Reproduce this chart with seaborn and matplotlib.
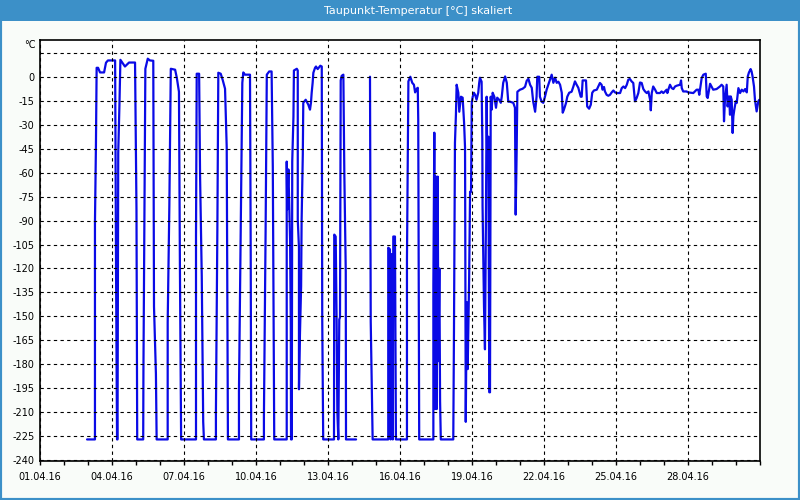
import numpy as np
import pandas as pd
import matplotlib
matplotlib.use("Agg")
import matplotlib.pyplot as plt
from matplotlib.patches import Rectangle
from matplotlib.ticker import FixedLocator, MultipleLocator
import seaborn as sns

# ---------------- data ----------------
title = "Taupunkt-Temperatur [°C] skaliert"
unit_label = "°C"
x_tick_days = [0, 3, 6, 9, 12, 15, 18, 21, 24, 27]
x_tick_labels = ["01.04.16", "04.04.16", "07.04.16", "10.04.16", "13.04.16",
                 "16.04.16", "19.04.16", "22.04.16", "25.04.16", "28.04.16"]
y_ticks = [15, 0, -15, -30, -45, -60, -75, -90, -105, -120, -135, -150, -165,
           -180, -195, -210, -225, -240]

# (days since 01.04.16, dew point °C) -- first block, before the data gap
early_cycles = [
    (1.96, -227), (2.29, -227), (2.29, -91.3), (2.33, -43.8), (2.36, 5.6), (2.42, 5.6),
    (2.5, 2.7), (2.67, 2.7), (2.75, 8.8), (2.83, 10.2), (3.13, 10.2), (3.15, -56.9),
    (3.17, -125), (3.21, -227), (3.23, -227), (3.26, -47.5), (3.31, -17.5), (3.35, 10.6),
    (3.54, 6.4), (3.71, 8.9), (3.96, 8.9), (4.02, -83.1), (4.05, -227), (4.30, -227),
    (4.31, -183), (4.35, -89.4), (4.39, 5), (4.49, 11.3), (4.58, 10.2), (4.72, 10),
    (4.75, -143.8), (4.83, -186), (4.86, -227), (5.32, -227), (5.32, -153.8), (5.39, -80),
    (5.42, -38), (5.45, 5), (5.63, 4.4), (5.70, -0.6), (5.79, -9.4), (5.83, -119.4),
    (5.88, -227), (6.5, -227), (6.5, -100), (6.53, 1.9), (6.63, 1.9), (6.67, -62.5),
    (6.74, -125), (6.80, -216), (6.83, -227), (7.33, -227), (7.33, -210), (7.39, -95.6),
    (7.43, 2.5), (7.53, 1.9), (7.61, -1.9), (7.71, -7.5), (7.78, -44.4), (7.83, -227),
    (8.29, -227), (8.29, -197), (8.36, -101.9), (8.43, -3.8), (8.47, 2.7), (8.54, 1.3),
    (8.75, 1.3), (8.78, -112.5), (8.8, -227), (9.33, -227), (9.33, -212.5), (9.40, -96.9),
    (9.45, 1.3), (9.55, 3.3), (9.65, 3.3), (9.7, -56.3), (9.72, -114.4), (9.76, -227),
    (10.28, -227), (10.28, -53.1), (10.30, -83.1), (10.35, -58), (10.42, -101.9),
    (10.45, -156.3), (10.46, -227), (10.49, -227), (10.51, -53.1), (10.56, -25),
    (10.58, 3.9), (10.70, 5), (10.74, 3.9), (10.74, -89.4), (10.79, -107), (10.79, -195.6),
    (10.83, -162), (10.88, -131), (10.90, -90.6), (10.95, -48.8), (10.97, -16.3),
    (11.07, -14.4), (11.18, -17.5), (11.25, -20.6), (11.29, -16.3), (11.32, -10),
    (11.36, -3.8), (11.39, 2.5), (11.46, 5.6), (11.5, 6.4), (11.57, 4.8), (11.64, 6.1),
    (11.68, 6.9), (11.74, 6.4), (11.76, -151.9), (11.8, -227), (12.25, -227),
    (12.26, -98.8), (12.32, -100), (12.36, -153.8), (12.39, -210), (12.43, -227),
    (12.47, -151.9), (12.5, -150.6), (12.53, -2.3), (12.57, 0.6), (12.64, 1.3),
    (12.68, -60), (12.74, -121.9), (12.75, -227), (13.17, -227),
]

late_cycles = [
    (13.75, 0), (13.78, -153), (13.82, -190.6), (13.86, -227), (14.51, -227), (14.51, -107),
    (14.58, -108), (14.61, -227), (14.65, -111), (14.70, -227), (14.72, -100), (14.79, -100),
    (14.83, -227), (15.29, -227), (15.29, -114.4), (15.35, -2.9), (15.43, 0), (15.51, -3.8),
    (15.58, -5), (15.63, -9.8), (15.70, -7.5), (15.74, -6.9), (15.76, -26.9), (15.80, -227),
    (16.39, -227), (16.39, -131), (16.43, -35), (16.46, -208), (16.5, -62.5), (16.53, -208),
    (16.57, -62.5), (16.60, -178), (16.64, -120), (16.67, -203), (16.70, -227),
    (17.22, -227), (17.25, -156.3), (17.29, -41.3), (17.33, -23.8), (17.36, -5),
    (17.43, -10), (17.47, -21.9), (17.54, -12.5), (17.61, -13.1), (17.67, -28.8),
    (17.71, -44.4), (17.74, -216), (17.78, -141), (17.82, -183), (17.88, -127),
    (17.92, -72), (17.96, -72), (17.99, -16.3), (18.03, -12.5), (18.08, -10),
    (18.13, -11.3), (18.19, -14.4), (18.26, -10), (18.30, -3.8), (18.33, -0.6),
    (18.40, -3.1), (18.43, -39.4), (18.44, -81), (18.5, -143.8), (18.54, -170.6),
    (18.58, -91.3), (18.61, -12.5), (18.64, -60), (18.68, -37.5), (18.72, -197.5),
    (18.75, -197.5), (18.78, -12.5), (18.82, -20.6), (18.86, -10),
]

settled = [
    (18.93, -12.5), (19.0, -19.4), (19.05, -13.1), (19.13, -14.4), (19.20, -16.3),
    (19.24, -12.5), (19.30, -3.8), (19.38, 0.2), (19.45, -3.8), (19.51, -15.6),
    (19.58, -15.6), (19.72, -16.3), (19.79, -19.4), (19.82, -86.3), (19.86, -47.5),
    (19.89, -9.4), (20.0, -8.1), (20.11, -7.5), (20.21, -6.3), (20.28, -2.5),
    (20.35, -1.3), (20.42, -5), (20.49, -6.9), (20.55, -15.6), (20.63, -21.9),
    (20.69, -12.5), (20.72, 0), (20.80, 0), (20.83, -12.5), (20.90, -15.6),
    (20.97, -16.3), (21.04, -12.5), (21.11, -8.1), (21.18, -5), (21.25, -1.9),
    (21.32, 1.3), (21.39, -3.8), (21.46, -0.6), (21.53, -3.8), (21.60, -3.1),
    (21.67, -5), (21.74, -10), (21.78, -22.5), (21.83, -20.6), (21.92, -16.3),
    (21.97, -12.5), (22.05, -10), (22.15, -9.4), (22.22, -6.3), (22.29, -2.9),
    (22.36, -5), (22.43, -6.9), (22.53, -12.5), (22.57, -12.5), (22.61, -2.3),
    (22.75, -2.3), (22.80, -18.6), (22.88, -20), (22.95, -17.5), (23.01, -10),
    (23.08, -8.6), (23.20, -8.1), (23.26, -6.1), (23.33, -3.9), (23.40, -5),
    (23.44, -8.1), (23.5, -6.4), (23.54, -9.2), (23.61, -11.3), (23.68, -11.9),
    (23.75, -11.3), (23.82, -9.8), (23.89, -8.6), (23.96, -9.8), (24.03, -10.2),
    (24.17, -10.2), (24.24, -7.1), (24.31, -6.1), (24.38, -7.1), (24.45, -5),
    (24.51, -1.9), (24.58, -1.4), (24.65, -2.9), (24.72, -3.9), (24.79, -15.4),
    (24.86, -13.3), (24.93, -10.2), (25.0, -3.6), (25.07, -3.9), (25.14, -7.7),
    (25.21, -9.2), (25.28, -10.2), (25.35, -9.2), (25.42, -14.4), (25.45, -21),
    (25.49, -10.2), (25.55, -6.1), (25.63, -8.1), (25.70, -10.2), (25.83, -10.2),
    (25.90, -9.2), (25.97, -10.2), (26.04, -9.2), (26.11, -8.1), (26.14, -10.2),
    (26.18, -8.1), (26.25, -5), (26.32, -7.1), (26.39, -7.7), (26.46, -6.1),
    (26.53, -5.6), (26.67, -5), (26.71, -2.3), (26.74, -7.1), (26.80, -9.2),
    (26.94, -9.2), (27.01, -9.8), (27.22, -10.2), (27.36, -8.1), (27.43, -8.1),
    (27.47, -11.3), (27.53, -5), (27.57, -0.8), (27.64, 1.3), (27.74, 1.9),
    (27.78, -12.3), (27.82, -13.3), (27.88, -8.1), (27.92, -4.4), (27.99, -6.4),
    (28.05, -8.1), (28.19, -7.7), (28.33, -6.1), (28.40, -5), (28.47, -6.1),
    (28.5, -27.9), (28.54, -14.4), (28.61, -5), (28.65, -18.6), (28.71, -12.3),
    (28.75, -23.8), (28.78, -12.3), (28.82, -14.4), (28.86, -35.2), (28.89, -24.8),
    (28.93, -20.6), (28.99, -15.4), (29.03, -16.4), (29.10, -7.1), (29.17, -10.2),
    (29.24, -8.1), (29.31, -9.2), (29.38, -7.7), (29.45, -9.8), (29.49, 0.2),
    (29.54, 2.7), (29.61, 4.8), (29.65, 3.3), (29.69, 0.2), (29.75, -6.1),
    (29.79, -14.4), (29.86, -21.7), (29.93, -15.4), (29.97, -14.4),
]

# ---------------- frame ----------------
frames = []
for seg_id, pts in enumerate([early_cycles, late_cycles + settled]):
    d = pd.DataFrame(pts, columns=["day", "temp"])
    d["segment"] = seg_id
    d["order"] = np.arange(len(d))
    frames.append(d)
df = pd.concat(frames, ignore_index=True)

# ---------------- style ----------------
sns.set_theme(style="white")
plt.rcParams["font.family"] = ["DejaVu Sans"]

BG = "#F9FCF9"
BAR = "#3C90C8"
LINE = "#0A0AE6"

fig = plt.figure(figsize=(8, 5), dpi=100, facecolor=BG)
ax = fig.add_axes([40 / 800, 1 - 461 / 500, 720 / 800, 421 / 500])
ax.set_facecolor("white")

sns.lineplot(data=df, x="day", y="temp", units="segment", estimator=None,
             sort=False, color=LINE, linewidth=1.6, ax=ax, legend=False)

ax.set_xlim(0, 30)
ax.set_ylim(-240.5, 23)

ax.xaxis.set_major_locator(FixedLocator(x_tick_days))
ax.set_xticklabels(x_tick_labels)
ax.xaxis.set_minor_locator(MultipleLocator(1))
ax.set_yticks(y_ticks)
ax.set_yticklabels(["" if v > 0 else str(v) for v in y_ticks])

ax.grid(True, which="major", color="black", linestyle=(0, (3, 3)), linewidth=0.8)
ax.set_axisbelow(False)

ax.tick_params(axis="x", which="both", direction="out", length=3, width=1,
               color="black", bottom=True, pad=5, labelsize=7, labelcolor="black")
ax.tick_params(axis="y", which="both", length=0, pad=4, labelsize=7, labelcolor="black")
for s in ax.spines.values():
    s.set_visible(True)
    s.set_color("black")
    s.set_linewidth(1.2)

ax.set_xlabel("")
ax.set_ylabel("")

fig.text(36 / 800, 1 - 45 / 500, unit_label, ha="right", va="center",
         fontsize=7, color="black")

# title bar and frame
fig.patches.append(Rectangle((0, 1 - 21 / 500), 1, 21 / 500, transform=fig.transFigure,
                             facecolor=BAR, edgecolor="none", zorder=0))
fig.patches.append(Rectangle((0, 0), 1, 1, transform=fig.transFigure, fill=False,
                             edgecolor=BAR, linewidth=3, zorder=5))
fig.text(418 / 800, 1 - 10.5 / 500, title, ha="center", va="center",
         fontsize=8, color="white")

fig.savefig("out.png", dpi=100, facecolor=BG)
